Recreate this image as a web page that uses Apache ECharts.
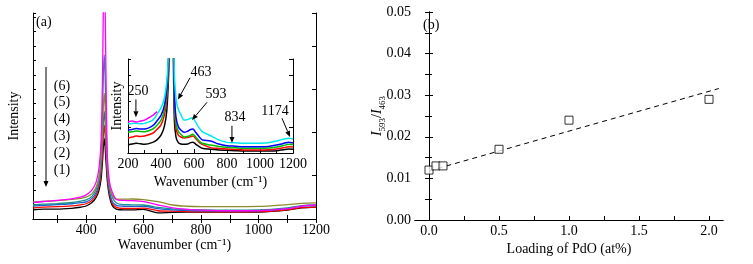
<!DOCTYPE html>
<html>
<head>
<meta charset="utf-8">
<script src="https://cdn.jsdelivr.net/npm/echarts@6/dist/echarts.min.js"></script>
<style>
  html, body { margin: 0; padding: 0; background: #fff; }
  #chart { width: 753px; height: 264px; }
</style>
</head>
<body>
<div id="chart"></div>
<script>
// (a) main spectra, arbitrary intensity units
const waveMain = [215, 250, 300, 350, 380, 400, 420, 435, 445, 452, 457, 460, 463, 466, 469, 474, 481, 491, 505, 530, 560, 600, 650, 700, 750, 800, 900, 1000, 1100, 1150, 1200];
const main1 = [4.5, 4.8, 4.8, 5.2, 5.7, 6.3, 8.0, 10.5, 14.0, 19.5, 28, 35, 39, 35, 28, 18, 11, 6.5, 4.8, 4.4, 4.4, 4.7, 3.0, 3.2, 3.3, 3.3, 3.3, 3.4, 4.3, 5.4, 5.8];
const main2 = [5.4, 5.8, 6.0, 6.4, 6.9, 7.4, 9.0, 11.8, 16, 22.5, 33, 41, 45.4, 41, 33, 20.5, 12.5, 7.5, 5.6, 5.1, 5.1, 5.3, 4.0, 3.8, 3.6, 3.5, 3.5, 3.6, 4.5, 5.5, 5.8];
const main3 = [6.3, 6.6, 7.0, 7.4, 7.9, 8.3, 10, 13, 17.5, 25, 38, 47, 52.2, 47, 37, 22.5, 13.5, 8.5, 6.6, 6.2, 6.1, 6.2, 5.0, 4.4, 4.2, 4.0, 3.9, 4.0, 5.0, 6.2, 6.5];
const main4 = [6.8, 7.2, 7.5, 8.0, 8.7, 9.3, 11, 14.5, 20, 30, 52, 70, 79.7, 70, 50, 27, 16, 10.5, 7.8, 7.0, 6.9, 6.8, 5.6, 4.9, 4.6, 4.4, 4.3, 4.4, 5.4, 6.5, 6.8];
const main5 = [8.2, 8.6, 8.9, 9.5, 10.0, 10.6, 12.2, 15.5, 20.5, 28.5, 43, 55, 61, 55, 42, 25, 16, 11.5, 9.6, 9.6, 9.7, 9.4, 8.4, 6.8, 6.2, 6.0, 6.0, 6.1, 7.0, 7.6, 7.8];
const main6 = [8.0, 8.5, 9.0, 9.8, 10.6, 11.7, 14, 18, 25, 38, 70, 105, 133, 105, 70, 30, 18, 13, 9.5, 9.0, 8.9, 8.4, 6.8, 5.4, 4.7, 4.3, 4.0, 4.1, 5.0, 6.3, 6.8];
const mainColors = ['#000000', '#ff0000', '#1f5fd0', '#1a9090', '#8c8c2c', '#ff00ff'];
const sampleLabels = ['(6)', '(5)', '(4)', '(3)', '(2)', '(1)'];

// inset, enlarged baseline
const waveInset = [200, 225, 250, 275, 300, 350, 375, 400, 420, 435, 445, 452, 458, 463, 468, 474, 481, 491, 505, 520, 540, 560, 580, 593, 610, 630, 650, 700, 750, 800, 850, 900, 1000, 1050, 1100, 1140, 1174, 1200];
const inBlack = [8.5, 9.5, 10.3, 9.8, 9.2, 11.3, 14, 19, 28, 45, 78, 120, 200, 260, 200, 120, 35, 17, 11, 9.5, 9.2, 9.5, 11, 11.4, 9.5, 7, 5, 4, 3.3, 2.9, 2.5, 2.1, 2.1, 2.2, 2.5, 3.5, 4.3, 4.0];
const inRed = [16, 17, 18, 17.5, 18, 21, 25, 30, 40, 57, 88, 130, 210, 270, 210, 130, 50, 26, 19, 17, 16, 16.5, 17.5, 18, 15.5, 11.5, 9.2, 5.7, 4.8, 4.3, 3.8, 3.3, 3.2, 3.5, 4.3, 5.5, 6.7, 6.4];
const inGreen = [22, 22.5, 23.4, 22.8, 22.7, 25.5, 29.5, 35, 45, 63, 95, 140, 220, 280, 220, 140, 58, 31, 23, 20, 17, 17.5, 19, 20, 17, 13, 10.3, 8.5, 7, 6, 5.5, 5, 5, 5.3, 6.4, 7.8, 9.2, 8.8];
const inBlue = [24.5, 25, 26, 25.5, 25.5, 29, 34, 40, 50, 68, 100, 145, 225, 290, 225, 145, 65, 38, 28, 24.5, 22, 23, 25, 25.5, 22, 17.5, 14, 12.8, 9.5, 7.7, 7.2, 6.7, 6.7, 7, 8.5, 10, 11.4, 10.6];
const inCyan = [31, 31.5, 31.6, 31, 31.5, 35, 41, 48, 58, 76, 105, 150, 230, 300, 230, 150, 85, 58, 46, 41, 35, 35.5, 37, 37.6, 33, 27, 22.7, 18.4, 14, 11.3, 10.8, 10.3, 10.3, 10.8, 12.8, 14.5, 15.6, 14.9];
const waveInsetMag = [200, 225, 250, 275, 300, 350, 376];
const inMagenta = [33, 34, 33, 34, 35, 40, 44];
const insetColors = ['#000000', '#ff0000', '#00c000', '#0000ff', '#00e8f0', '#ff00ff'];
// [text, tail [wavenumber, intensity], tip, text offset from tail in px]
const insetNotes = [
  ['250', [248, 57], [248, 38], [2, -8]],
  ['463', [576, 80], [503, 57], [11, -5]],
  ['593', [679, 54], [588, 35], [9, -8]],
  ['834', [830, 29], [830, 10.6], [3, -8]],
  ['1174', [1133, 37], [1182, 17], [-7, -7]]
];

// (b) ratio vs PdO loading
const loading = [0, 0.05, 0.1, 0.5, 1.0, 2.0];
const ratio = [0.012, 0.013, 0.013, 0.017, 0.024, 0.029];
const fitLine = [[0, 0.0118], [2.07, 0.0316]];

const serif = '"Liberation Serif", "Times New Roman", serif';
const txt = { fontFamily: serif, fontSize: 14, color: '#000' };
const line = { show: true, lineStyle: { color: '#000', width: 1 } };
const plain = v => String(v);

function frameAxis(gridIndex, position, min, max, extra) {
  return Object.assign({
    gridIndex, position, type: 'value', min, max,
    axisLine: line, splitLine: { show: false },
    axisLabel: { show: false }, axisTick: { show: false },
    nameMoveOverlap: false
  }, extra || {});
}

const pair = (xs, ys) => xs.map((x, i) => [x, ys[i]]);

const series = [];
[main1, main2, main3, main4, main5, main6].forEach((v, i) => {
  series.push({
    type: 'line', xAxisIndex: 0, yAxisIndex: 0, data: pair(waveMain, v),
    showSymbol: false, smooth: 0.3, clip: true,
    lineStyle: { color: mainColors[i], width: 1.3 }, z: 2 + i
  });
});
[inBlack, inRed, inGreen, inBlue, inCyan].forEach((v, i) => {
  series.push({
    type: 'line', xAxisIndex: 2, yAxisIndex: 2, data: pair(waveInset, v),
    showSymbol: false, smooth: 0.3, clip: true,
    lineStyle: { color: insetColors[i], width: 1.5 }, z: 10 + i
  });
});
series.push({
  type: 'line', xAxisIndex: 2, yAxisIndex: 2, data: pair(waveInsetMag, inMagenta),
  showSymbol: false, smooth: 0.3, lineStyle: { color: insetColors[5], width: 1.5 }, z: 16
});
series.push({
  type: 'line', xAxisIndex: 4, yAxisIndex: 4, data: fitLine, showSymbol: false,
  lineStyle: { color: '#000', width: 1, type: [5, 4] }
});
series.push({
  type: 'scatter', xAxisIndex: 4, yAxisIndex: 4, data: pair(loading, ratio),
  symbol: 'rect', symbolSize: 8,
  itemStyle: { color: '#fff', borderColor: '#000', borderWidth: 1 }, z: 5
});

const chart = echarts.init(document.getElementById('chart'));
chart.setOption({
  animation: false,
  backgroundColor: '#fff',
  grid: [
    { left: 33, top: 13, width: 283, height: 206 },
    { left: 128, top: 59, width: 165, height: 94 },
    { left: 415, top: 12, width: 308, height: 208 }
  ],
  xAxis: [
    frameAxis(0, 'bottom', 215, 1200, {
      axisLabel: Object.assign({ show: true, margin: 4, formatter: plain, customValues: [400, 600, 800, 1000, 1200] }, txt),
      axisTick: { show: true, inside: true, length: 4, lineStyle: { color: '#000' }, customValues: [300, 400, 500, 600, 700, 800, 900, 1000, 1100, 1200] },
      name: 'Wavenumber (cm⁻¹)', nameLocation: 'middle', nameGap: 19, nameTextStyle: txt
    }),
    frameAxis(0, 'top', 215, 1200, {
      axisTick: { show: true, inside: true, length: 4, lineStyle: { color: '#000' }, customValues: [300, 400, 500, 600, 700, 800, 900, 1000, 1100, 1200] }
    }),
    frameAxis(1, 'bottom', 200, 1200, {
      interval: 200,
      axisLabel: Object.assign({ show: true, margin: 4, formatter: plain }, txt),
      axisTick: { show: true, inside: true, length: 4, lineStyle: { color: '#000' } },
      minorTick: { show: true, splitNumber: 2, length: 3, lineStyle: { color: '#000' } },
      name: 'Wavenumber (cm⁻¹)', nameLocation: 'middle', nameGap: 22, nameTextStyle: txt
    }),
    frameAxis(1, 'top', 200, 1200),
    frameAxis(2, 'bottom', -0.1, 2.1, {
      axisLabel: Object.assign({ show: true, margin: 4, customValues: [0, 0.5, 1, 1.5, 2], formatter: v => v.toFixed(1) }, txt),
      axisTick: { show: true, inside: true, length: 4, lineStyle: { color: '#000' }, customValues: [0, 0.25, 0.5, 0.75, 1, 1.25, 1.5, 1.75, 2] },
      name: 'Loading of PdO (at%)', nameLocation: 'middle', nameGap: 22, nameTextStyle: txt
    }),
    frameAxis(2, 'top', -0.1, 2.1)
  ],
  yAxis: [
    frameAxis(0, 'left', 0, 100, {
      interval: 7,
      axisTick: { show: true, inside: true, length: 3, lineStyle: { color: '#000' } },
      name: 'Intensity', nameLocation: 'middle', nameGap: 12, nameRotate: 90, nameTextStyle: txt
    }),
    frameAxis(0, 'right', 0, 100, {
      interval: 21,
      axisTick: { show: true, inside: true, length: 4, lineStyle: { color: '#000' } }
    }),
    frameAxis(1, 'left', 0, 100, {
      interval: 27.5,
      axisTick: { show: true, inside: true, length: 3, lineStyle: { color: '#000' } },
      name: 'Intensity', nameLocation: 'middle', nameGap: 4, nameRotate: 90, nameTextStyle: txt
    }),
    frameAxis(1, 'right', 0, 100, {
      interval: 27.5,
      axisTick: { show: true, inside: true, length: 4, lineStyle: { color: '#000' } }
    }),
    frameAxis(2, 'left', 0, 0.05, {
      interval: 0.01,
      axisLabel: Object.assign({ show: true, margin: 4, formatter: v => v.toFixed(2) }, txt),
      axisTick: { show: true, inside: true, length: 4, lineStyle: { color: '#000' } },
      minorTick: { show: true, splitNumber: 2, length: 3, lineStyle: { color: '#000' } },
      name: '{i|I}{s|593}{n|/}{i|I}{s|463}', nameLocation: 'middle', nameGap: 28, nameRotate: 90,
      nameTextStyle: Object.assign({}, txt, {
        rich: {
          i: { fontFamily: serif, fontSize: 14, fontStyle: 'italic', color: '#000', lineHeight: 20, verticalAlign: 'middle' },
          s: { fontFamily: serif, fontSize: 9, color: '#000', lineHeight: 20, verticalAlign: 'bottom' },
          n: { fontFamily: serif, fontSize: 14, color: '#000', lineHeight: 20, verticalAlign: 'middle' }
        }
      })
    }),
    frameAxis(2, 'right', 0, 0.05, {
      interval: 0.005,
      axisTick: { show: true, inside: true, length: 4, lineStyle: { color: '#000' } }
    })
  ],
  series
});

// annotations
const graphic = [];
function arrow(x0, y0, x1, y1) {
  const a = Math.atan2(y1 - y0, x1 - x0);
  const L = 6, H = 2.5;
  const bx = x1 - L * Math.cos(a), by = y1 - L * Math.sin(a);
  graphic.push({ type: 'line', shape: { x1: x0, y1: y0, x2: bx, y2: by }, style: { stroke: '#000', lineWidth: 1 }, z: 50 });
  graphic.push({ type: 'polygon', shape: { points: [[x1, y1], [bx - H * Math.sin(a), by + H * Math.cos(a)], [bx + H * Math.sin(a), by - H * Math.cos(a)]] }, style: { fill: '#000' }, z: 50 });
}
function label(text, x, y, align) {
  graphic.push({ type: 'text', x, y, z: 50, style: { text, font: '14px ' + serif, fill: '#000', align: align || 'center', verticalAlign: 'middle' } });
}

label('(a)', 36, 22, 'left');
label('(b)', 423, 25, 'left');
arrow(46, 67, 46, 187);
sampleLabels.forEach((t, i) => label(t, 62, 86 + i * 16.8));

insetNotes.forEach(([t, tail, tip, off]) => {
  const p0 = chart.convertToPixel({ gridIndex: 1 }, tail);
  const p1 = chart.convertToPixel({ gridIndex: 1 }, tip);
  arrow(p0[0], p0[1], p1[0], p1[1]);
  label(t, p0[0] + off[0], p0[1] + off[1]);
});
chart.setOption({ graphic });
</script>
</body>
</html>
